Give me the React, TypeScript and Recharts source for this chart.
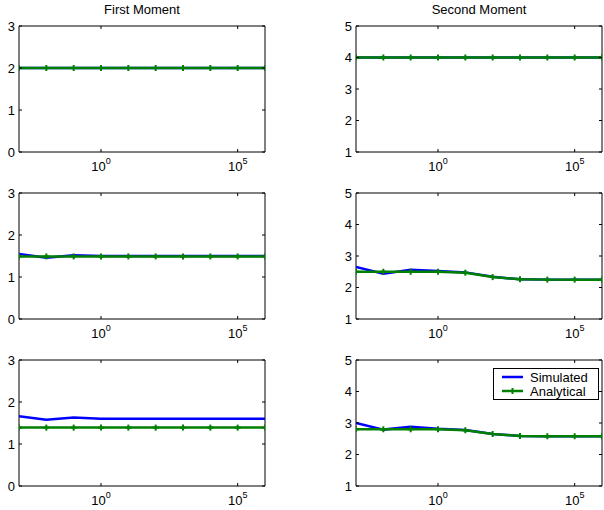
import { LineChart, Line, XAxis, YAxis, ReferenceArea, Legend } from 'recharts'

// x grid is one point per decade
const X_VALUES = [1e-3, 1e-2, 1e-1, 1e0, 1e1, 1e2, 1e3, 1e4, 1e5, 1e6]
const X_TICKS = [1e0, 1e5]
const FIRST_TICKS = [0, 1, 2, 3]
const SECOND_TICKS = [1, 2, 3, 4, 5]
const TITLES = ['First Moment', 'Second Moment']
const SERIES_ORDER = ['sim', 'ana']

const SIM_1A = [2, 2, 2, 2, 2, 2, 2, 2, 2, 2]
const ANA_1A = [2, 2, 2, 2, 2, 2, 2, 2, 2, 2]
const SIM_1B = [4, 4, 4, 4, 4, 4, 4, 4, 4, 4]
const ANA_1B = [4, 4, 4, 4, 4, 4, 4, 4, 4, 4]

const SIM_2A = [1.55, 1.46, 1.52, 1.5, 1.5, 1.5, 1.5, 1.5, 1.5, 1.5]
const ANA_2A = [1.49, 1.49, 1.49, 1.49, 1.49, 1.49, 1.49, 1.49, 1.49, 1.49]
const SIM_2B = [2.65, 2.44, 2.56, 2.52, 2.48, 2.34, 2.26, 2.25, 2.25, 2.25]
const ANA_2B = [2.5, 2.5, 2.5, 2.5, 2.47, 2.33, 2.26, 2.25, 2.25, 2.25]

const SIM_3A = [1.66, 1.58, 1.63, 1.6, 1.6, 1.6, 1.6, 1.6, 1.6, 1.6]
const ANA_3A = [1.39, 1.39, 1.39, 1.39, 1.39, 1.39, 1.39, 1.39, 1.39, 1.39]
const SIM_3B = [3.0, 2.79, 2.88, 2.82, 2.78, 2.65, 2.59, 2.58, 2.58, 2.58]
const ANA_3B = [2.8, 2.8, 2.8, 2.8, 2.77, 2.65, 2.59, 2.58, 2.58, 2.58]

const FONT = '"Liberation Sans", Arial, Helvetica, sans-serif'
const BLUE = '#0000ff'
const GREEN = '#008000'

const PLOT_W = 246
const PLOT_H = 126
const COL_X = [19, 356]
const ROW_Y = [26, 193, 360]
const AXIS_W = 40
const TOP_PAD = 10

const rows = (sim: number[], ana: number[]) =>
  X_VALUES.map((x, i) => ({ x, sim: sim[i], ana: ana[i] }))

function XTick(props: any) {
  const { x, y, payload } = props
  const exp = Math.round(Math.log10(payload.value))
  return (
    <g>
      <line x1={x} x2={x} y1={y} y2={y - 3} stroke="#000" />
      <line x1={x} x2={x} y1={y - PLOT_H} y2={y - PLOT_H + 3} stroke="#000" />
      <text x={x} y={y + 19} textAnchor="middle" fontSize={13} fill="#000" fontFamily={FONT}>
        10<tspan dy={-7} fontSize={9}>{exp}</tspan>
      </text>
    </g>
  )
}

function YTick(props: any) {
  const { x, y, payload } = props
  return (
    <g>
      <line x1={x} x2={x + 3} y1={y} y2={y} stroke="#000" />
      <line x1={x + PLOT_W} x2={x + PLOT_W - 3} y1={y} y2={y} stroke="#000" />
      <text x={x - 4} y={y + 4.5} textAnchor="end" fontSize={13} fill="#000" fontFamily={FONT}>
        {payload.value}
      </text>
    </g>
  )
}

function PlusDot(props: any) {
  const { cx, cy } = props
  if (cx == null || cy == null) return null
  return (
    <g stroke={GREEN} strokeWidth={2}>
      <line x1={cx - 3} x2={cx + 3} y1={cy} y2={cy} />
      <line x1={cx} x2={cx} y1={cy - 3} y2={cy + 3} />
    </g>
  )
}

function LegendBox(props: any) {
  const items = [...(props.payload ?? [])].sort(
    (a: any, b: any) => SERIES_ORDER.indexOf(a.dataKey) - SERIES_ORDER.indexOf(b.dataKey)
  )
  return (
    <div
      style={{
        border: '1px solid #000', background: '#fff', width: 104, padding: '1px 0 1px 0',
        fontFamily: FONT, fontSize: 13, color: '#000',
      }}
    >
      {items.map((it: any) => (
        <div key={it.value} style={{ display: 'flex', alignItems: 'center', height: 14 }}>
          <svg width={34} height={14}>
            <line x1={8} x2={29} y1={7} y2={7} stroke={it.color} strokeWidth={2.5} />
            {it.dataKey === 'ana' && <line x1={18.5} x2={18.5} y1={4} y2={10} stroke={it.color} strokeWidth={2} />}
          </svg>
          <span style={{ marginLeft: 2 }}>{it.value}</span>
        </div>
      ))}
    </div>
  )
}

function Panel({ col, row, sim, ana, yDomain, yTicks, legend }: {
  col: number, row: number, sim: number[], ana: number[],
  yDomain: [number, number], yTicks: number[], legend?: boolean
}) {
  const left = COL_X[col] - AXIS_W
  const top = ROW_Y[row] - TOP_PAD
  return (
    <div style={{ position: 'absolute', left, top }}>
      <LineChart
        width={AXIS_W + PLOT_W + 6}
        height={TOP_PAD + PLOT_H + 30}
        data={rows(sim, ana)}
        margin={{ top: TOP_PAD, right: 6, left: 0, bottom: 0 }}
      >
        <XAxis
          dataKey="x"
          type="number"
          scale="log"
          domain={[1e-3, 1e6]}
          ticks={X_TICKS}
          allowDataOverflow
          axisLine={false}
          tickLine={false}
          tickSize={0}
          tickMargin={0}
          height={30}
          tick={XTick}
          interval={0}
        />
        <YAxis
          type="number"
          domain={yDomain}
          ticks={yTicks}
          allowDataOverflow
          axisLine={false}
          tickLine={false}
          tickSize={0}
          tickMargin={0}
          width={AXIS_W}
          tick={YTick}
          interval={0}
        />
        <ReferenceArea
          x1={1e-3} x2={1e6} y1={yDomain[0]} y2={yDomain[1]}
          fill="none" fillOpacity={0} stroke="#000" strokeWidth={1}
        />
        <Line
          dataKey="sim" name="Simulated" type="linear" stroke={BLUE} strokeWidth={2.5}
          dot={false} activeDot={false} isAnimationActive={false}
        />
        <Line
          dataKey="ana" name="Analytical" type="linear" stroke={GREEN} strokeWidth={2.5}
          dot={<PlusDot />} activeDot={false} isAnimationActive={false}
        />
        {legend && (
          <Legend
            layout="vertical"
            align="center"
            verticalAlign="middle"
            content={<LegendBox />}
            wrapperStyle={{ left: 493 - left, top: 368 - top, width: 'auto', height: 'auto' }}
          />
        )}
      </LineChart>
    </div>
  )
}

export default function App() {
  return (
    <div
      style={{
        position: 'absolute', left: 0, top: 0, width: 604, height: 510,
        overflow: 'hidden', background: '#fff', fontFamily: FONT,
      }}
    >
      {TITLES.map((t, i) => (
        <div
          key={t}
          style={{
            position: 'absolute', left: COL_X[i], width: PLOT_W, top: 2,
            textAlign: 'center', fontSize: 13, color: '#000',
          }}
        >
          {t}
        </div>
      ))}
      <Panel col={0} row={0} sim={SIM_1A} ana={ANA_1A} yDomain={[0, 3]} yTicks={FIRST_TICKS} />
      <Panel col={1} row={0} sim={SIM_1B} ana={ANA_1B} yDomain={[1, 5]} yTicks={SECOND_TICKS} />
      <Panel col={0} row={1} sim={SIM_2A} ana={ANA_2A} yDomain={[0, 3]} yTicks={FIRST_TICKS} />
      <Panel col={1} row={1} sim={SIM_2B} ana={ANA_2B} yDomain={[1, 5]} yTicks={SECOND_TICKS} />
      <Panel col={0} row={2} sim={SIM_3A} ana={ANA_3A} yDomain={[0, 3]} yTicks={FIRST_TICKS} />
      <Panel col={1} row={2} sim={SIM_3B} ana={ANA_3B} yDomain={[1, 5]} yTicks={SECOND_TICKS} legend />
    </div>
  )
}
